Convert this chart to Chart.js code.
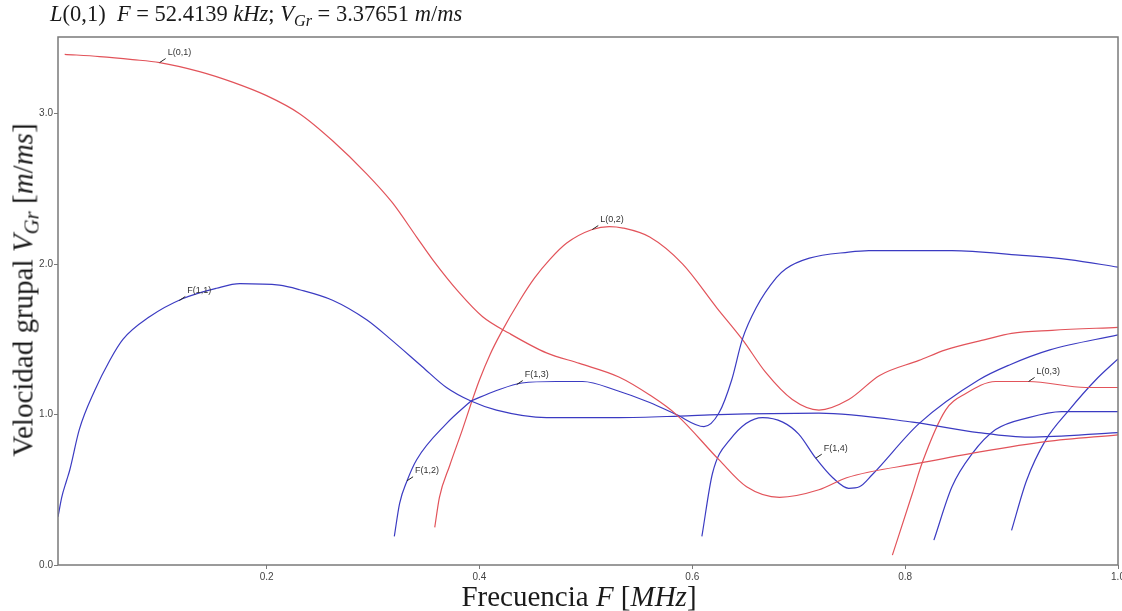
<!DOCTYPE html>
<html>
<head>
<meta charset="utf-8">
<script src="https://cdn.jsdelivr.net/npm/chart.js@4"></script>
<style>
body{margin:0;background:#fff;}
#wrap{position:relative;width:1122px;height:611px;}
#wrap canvas{position:absolute;left:0;top:0;}
.t{position:absolute;font-family:"Liberation Serif","Times New Roman",serif;color:#1a1a1a;white-space:nowrap;line-height:1;}
.t sub{font-size:0.72em;vertical-align:-0.28em;line-height:0;}
#title{left:50px;top:3px;font-size:22.5px;}
#ytitle{left:23px;top:290px;font-size:29px;transform:translate(-50%,-50%) rotate(-90deg);}
#xtitle{left:579px;top:596px;font-size:29px;transform:translate(-50%,-50%);}
</style>
</head>
<body>
<div id="wrap">
  <canvas id="chart"></canvas>
  <div class="t" id="title"><i>L</i>(0,1)&nbsp; <i>F</i> = 52.4139 <i>kHz</i>; <i>V<sub>Gr</sub></i> = 3.37651 <i>m</i>/<i>ms</i></div>
  <div class="t" id="ytitle">Velocidad grupal <i>V<sub>Gr</sub></i> [<i>m</i>/<i>ms</i>]</div>
  <div class="t" id="xtitle">Frecuencia <i>F</i> [<i>MHz</i>]</div>
</div>
<script>
// frecuencia (MHz) / velocidad grupal (m/ms) de cada modo
const l01F = [0.0103, 0.043, 0.074, 0.0995, 0.137, 0.168, 0.2, 0.231, 0.262, 0.294, 0.318, 0.341, 0.356, 0.381, 0.403, 0.428, 0.463, 0.494, 0.531, 0.56, 0.585, 0.625, 0.651, 0.682, 0.719, 0.745, 0.816, 0.869, 0.932, 1.0];
const l01V = [3.395, 3.38, 3.36, 3.34, 3.28, 3.21, 3.12, 3.0, 2.82, 2.60, 2.41, 2.18, 2.03, 1.81, 1.65, 1.54, 1.41, 1.34, 1.25, 1.13, 1.0, 0.70, 0.52, 0.45, 0.50, 0.58, 0.68, 0.75, 0.82, 0.865];

const f11F = [0.004, 0.0075, 0.012, 0.015, 0.024, 0.0385, 0.0526, 0.065, 0.09, 0.121, 0.153, 0.175, 0.212, 0.231, 0.262, 0.294, 0.315, 0.346, 0.369, 0.392, 0.416, 0.463, 0.531, 0.588, 0.625, 0.719, 0.807, 0.869, 0.916, 1.0];
const f11V = [0.32, 0.45, 0.56, 0.63, 0.9, 1.16, 1.36, 1.50, 1.65, 1.77, 1.84, 1.87, 1.86, 1.83, 1.76, 1.63, 1.51, 1.32, 1.18, 1.09, 1.03, 0.98, 0.98, 0.99, 1.0, 1.01, 0.95, 0.88, 0.85, 0.88];

const f12F = [0.32, 0.325, 0.332, 0.341, 0.369, 0.392];
const f12V = [0.19, 0.41, 0.56, 0.70, 0.94, 1.09];

const f13F = [0.392, 0.416, 0.44, 0.472, 0.497, 0.529, 0.56, 0.585, 0.611, 0.625, 0.637, 0.647, 0.66, 0.679, 0.688, 0.71, 0.747, 0.766, 0.844, 0.907, 0.954, 1.0];
const f13V = [1.09, 1.16, 1.21, 1.22, 1.22, 1.16, 1.08, 1.0, 0.92, 1.01, 1.23, 1.5, 1.71, 1.91, 1.97, 2.04, 2.08, 2.09, 2.09, 2.06, 2.03, 1.98];

const l02F = [0.358, 0.3624, 0.372, 0.384, 0.392, 0.4, 0.41, 0.42, 0.438, 0.452, 0.466, 0.482, 0.506, 0.522, 0.535, 0.56, 0.591, 0.623, 0.647, 0.669, 0.694, 0.719, 0.747, 0.776, 0.813, 0.838, 0.876, 0.9, 0.938, 1.0];
const l02V = [0.25, 0.45, 0.66, 0.90, 1.07, 1.23, 1.40, 1.54, 1.76, 1.91, 2.03, 2.14, 2.23, 2.25, 2.24, 2.18, 2.0, 1.71, 1.50, 1.28, 1.10, 1.03, 1.10, 1.26, 1.36, 1.43, 1.50, 1.54, 1.56, 1.58];

const f14F = [0.609, 0.619, 0.635, 0.666, 0.685, 0.70, 0.716, 0.732, 0.747, 0.757, 0.769, 0.813, 0.869, 0.898, 0.936, 1.0];
const f14V = [0.19, 0.61, 0.83, 0.98, 0.95, 0.87, 0.71, 0.58, 0.51, 0.52, 0.60, 0.94, 1.23, 1.33, 1.43, 1.53];

const l03F = [0.788, 0.807, 0.816, 0.838, 0.857, 0.885, 0.916, 0.97, 1.0];
const l03V = [0.066, 0.48, 0.68, 1.03, 1.14, 1.22, 1.22, 1.18, 1.18];

const f15F = [0.827, 0.844, 0.863, 0.885, 0.916, 0.947, 1.0];
const f15V = [0.165, 0.52, 0.74, 0.90, 0.98, 1.02, 1.02];

const f16F = [0.9, 0.914, 0.932, 0.954, 0.979, 1.0];
const f16V = [0.23, 0.56, 0.83, 1.03, 1.23, 1.37];

const xTicks = [0.2, 0.4, 0.6, 0.8, 1.0];
const yTicks = [0, 1, 2, 3];

const RED = '#e2535a';
const BLUE = '#3b3bc2';

function pts(fs, vs) {
  return fs.map((f, i) => ({x: f, y: vs[i]}));
}

const modes = [
  {name: 'L(0,1)', f: l01F, v: l01V, color: RED, at: 0.0995},
  {name: 'F(1,1)', f: f11F, v: f11V, color: BLUE, at: 0.118},
  {name: 'F(1,2)', f: f12F, v: f12V, color: BLUE, at: 0.332},
  {name: 'F(1,3)', f: f13F, v: f13V, color: BLUE, at: 0.435},
  {name: 'L(0,2)', f: l02F, v: l02V, color: RED, at: 0.506},
  {name: 'F(1,4)', f: f14F, v: f14V, color: BLUE, at: 0.716},
  {name: 'L(0,3)', f: l03F, v: l03V, color: RED, at: 0.916},
  {name: 'F(1,5)', f: f15F, v: f15V, color: BLUE},
  {name: 'F(1,6)', f: f16F, v: f16V, color: BLUE}
];

// valor interpolado en la curva para colocar la etiqueta
function interp(fs, vs, x) {
  for (let i = 1; i < fs.length; i++) {
    if (x <= fs[i]) {
      const t = (x - fs[i - 1]) / (fs[i] - fs[i - 1]);
      return vs[i - 1] + t * (vs[i] - vs[i - 1]);
    }
  }
  return vs[vs.length - 1];
}

const frameAndLabels = {
  id: 'frameAndLabels',
  afterDatasetsDraw(chart) {
    const {ctx, chartArea: a, scales} = chart;
    ctx.save();
    ctx.strokeStyle = '#7a7a7a';
    ctx.lineWidth = 1.5;
    ctx.strokeRect(a.left, a.top, a.right - a.left, a.bottom - a.top);

    ctx.font = '9px "Liberation Sans", Arial, sans-serif';
    ctx.textBaseline = 'middle';
    ctx.fillStyle = '#333';
    ctx.strokeStyle = '#222';
    ctx.lineWidth = 1;
    modes.forEach(m => {
      if (m.at === undefined) return;
      const px = scales.x.getPixelForValue(m.at);
      const py = scales.y.getPixelForValue(interp(m.f, m.v, m.at));
      ctx.beginPath();
      ctx.moveTo(px + 6, py - 4);
      ctx.lineTo(px, py);
      ctx.stroke();
      ctx.fillText(m.name, px + 8, py - 10);
    });
    ctx.restore();
  }
};

new Chart(document.getElementById('chart'), {
  type: 'scatter',
  data: {
    datasets: modes.map(m => ({
      label: m.name,
      data: pts(m.f, m.v),
      showLine: true,
      borderColor: m.color,
      borderWidth: 1.2,
      pointRadius: 0,
      cubicInterpolationMode: 'monotone'
    }))
  },
  options: {
    responsive: true,
    maintainAspectRatio: false,
    animation: false,
    layout: {padding: {top: 37, right: 4, left: 0, bottom: 0}},
    plugins: {legend: {display: false}, tooltip: {enabled: false}},
    scales: {
      x: {
        type: 'linear',
        min: 0.004,
        max: 1.0,
        afterBuildTicks: s => { s.ticks = xTicks.map(v => ({value: v})); },
        afterFit: s => { s.height = 46; s.paddingLeft = 0; s.paddingRight = 0; },
        grid: {drawOnChartArea: false, drawTicks: true, tickLength: 4, color: '#7a7a7a'},
        border: {display: false},
        ticks: {
          color: '#444',
          padding: 2,
          maxRotation: 0,
          font: {family: '"Liberation Sans", Arial, sans-serif', size: 10},
          callback: v => v.toFixed(1)
        }
      },
      y: {
        type: 'linear',
        min: 0,
        max: 3.51,
        afterBuildTicks: s => { s.ticks = yTicks.map(v => ({value: v})); },
        afterFit: s => { s.width = 58; s.paddingTop = 0; s.paddingBottom = 0; },
        grid: {drawOnChartArea: false, drawTicks: true, tickLength: 4, color: '#7a7a7a'},
        border: {display: false},
        ticks: {
          color: '#444',
          padding: 1,
          font: {family: '"Liberation Sans", Arial, sans-serif', size: 10},
          callback: v => v.toFixed(1)
        }
      }
    }
  },
  plugins: [frameAndLabels]
});
</script>
</body>
</html>
